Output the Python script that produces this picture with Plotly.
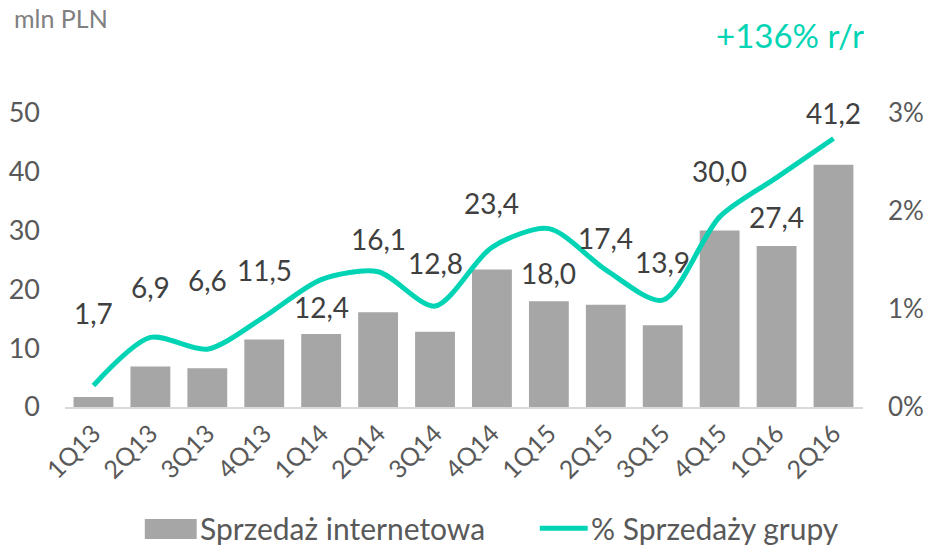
import plotly.graph_objects as go

quarters = ["1Q13", "2Q13", "3Q13", "4Q13", "1Q14", "2Q14", "3Q14", "4Q14",
            "1Q15", "2Q15", "3Q15", "4Q15", "1Q16", "2Q16"]
sales = [1.7, 6.9, 6.6, 11.5, 12.4, 16.1, 12.8, 23.4, 18.0, 17.4, 13.9, 30.0, 27.4, 41.2]
share = [0.0022, 0.0071, 0.0059, 0.0092, 0.0130, 0.0138, 0.0103, 0.0163,
         0.0182, 0.0140, 0.0109, 0.0194, 0.0234, 0.0274]
label_shift = [84, 79, 88, 69, 27, 73, 69, 66, 28, 67, 63, 60, 29, 52]

FONT = "Lato"
BAR = "#a6a6a6"
TEAL = "#00d4b4"
TXT = "#595959"

fig = go.Figure()
fig.add_trace(go.Bar(x=quarters, y=sales, name="Sprzedaż internetowa",
                     marker=dict(color=BAR, line=dict(width=0)), yaxis="y",
                     showlegend=False))
fig.add_trace(go.Scatter(x=quarters, y=share, name="% Sprzedaży grupy", mode="lines",
                         line=dict(color=TEAL, width=5, shape="spline", smoothing=0.8),
                         yaxis="y2", showlegend=False))

for q, v, s in zip(quarters, sales, label_shift):
    fig.add_annotation(x=q, y=v, xref="x", yref="y", text=f"{v:.1f}".replace(".", ","),
                       showarrow=False, yshift=s, yanchor="middle",
                       font=dict(family=FONT, size=28, color="#404040"))

# header texts
fig.add_annotation(xref="paper", yref="paper", x=-0.066, y=1.0, yshift=95,
                   text="mln PLN", showarrow=False, xanchor="left", yanchor="middle",
                   font=dict(family=FONT, size=25, color="#808080"))
fig.add_annotation(xref="paper", yref="paper", x=0.909, y=1.0, yshift=78,
                   text="+136% r/r", showarrow=False, xanchor="center", yanchor="middle",
                   font=dict(family=FONT, size=33, color=TEAL))

# custom legend (below plot)
fig.add_shape(type="rect", xref="paper", yref="paper", x0=0.100, x1=0.165,
              y0=-0.449, y1=-0.381, fillcolor=BAR, line=dict(width=0))
fig.add_annotation(xref="paper", yref="paper", x=0.167, y=-0.412, text="Sprzedaż internetowa",
                   showarrow=False, xanchor="left", yanchor="middle",
                   font=dict(family=FONT, size=30, color=TXT))
fig.add_shape(type="line", xref="paper", yref="paper", x0=0.595, x1=0.655,
              y0=-0.412, y1=-0.412, line=dict(color=TEAL, width=5))
fig.add_annotation(xref="paper", yref="paper", x=0.657, y=-0.412, text="% Sprzedaży grupy",
                   showarrow=False, xanchor="left", yanchor="middle",
                   font=dict(family=FONT, size=30, color=TXT))

fig.update_layout(
    width=929, height=546,
    margin=dict(l=65, r=66, t=113, b=139, autoexpand=False),
    paper_bgcolor="white", plot_bgcolor="white",
    bargap=0.3,
    font=dict(family=FONT, size=26, color=TXT),
    showlegend=False,
    xaxis=dict(showline=True, linecolor="#d9d9d9", linewidth=2, tickangle=-45,
               ticks="", automargin=False,
               tickfont=dict(family=FONT, size=25, color=TXT)),
    yaxis=dict(range=[0, 50], dtick=10, showgrid=False, zeroline=False,
               ticks="", ticklabelstandoff=24, automargin=False,
               tickfont=dict(family=FONT, size=27, color=TXT)),
    yaxis2=dict(range=[0, 0.03], dtick=0.01, tickformat=".0%", overlaying="y",
                side="right", showgrid=False, zeroline=False, ticks="",
                ticklabelstandoff=24, automargin=False,
                tickfont=dict(family=FONT, size=26, color=TXT)),
)

fig.write_html("out.html", config={"displayModeBar": False},
               post_script="document.body.style.margin='0';")
